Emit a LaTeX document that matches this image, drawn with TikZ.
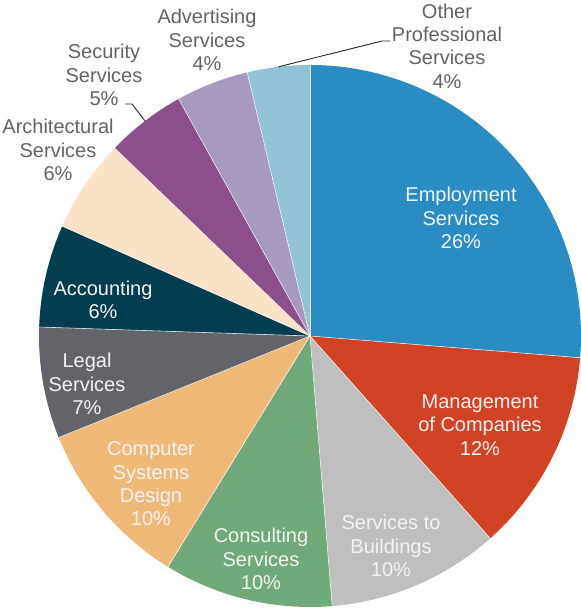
\documentclass[tikz,border=0pt]{standalone}
\usepackage{fontspec}
\setmainfont{Liberation Sans}
\usetikzlibrary{calc}
\definecolor{cEmp}{HTML}{2A8CC2}
\definecolor{cMan}{HTML}{D24325}
\definecolor{cBld}{HTML}{BFBFBF}
\definecolor{cCon}{HTML}{70A97A}
\definecolor{cCmp}{HTML}{F1B978}
\definecolor{cLeg}{HTML}{626469}
\definecolor{cAcc}{HTML}{033E50}
\definecolor{cArc}{HTML}{FAE3C8}
\definecolor{cSec}{HTML}{8B4F8A}
\definecolor{cAdv}{HTML}{A899BF}
\definecolor{cOth}{HTML}{92C3D5}
\definecolor{intext}{HTML}{F2F2F2}
\definecolor{outtext}{HTML}{636363}
\newcommand\pieslice[3]{\fill[#3] (c) -- ++(#1:271) arc[start angle=#1,end angle=#2,radius=271] -- cycle;}
\begin{document}
\begin{tikzpicture}[x=1pt,y=1pt,
  lbl/.style={align=center,font=\fontsize{20}{23.3}\selectfont,inner sep=0pt},
  inlbl/.style={lbl,text=intext},
  outlbl/.style={lbl,text=outtext},
  sepline/.style={draw=white,line width=0.6pt,opacity=0.8},
  leader/.style={draw=black!85,line width=0.9pt}]
\useasboundingbox (0,0) rectangle (581,608);
\coordinate (c) at (310,272);
\pieslice{90}{-4.6}{cEmp}
\pieslice{-4.6}{-48.3}{cMan}
\pieslice{-48.3}{-85.3}{cBld}
\pieslice{-85.3}{-121.6}{cCon}
\pieslice{-121.6}{-158.0}{cCmp}
\pieslice{-158.0}{-181.9}{cLeg}
\pieslice{-181.9}{-203.9}{cAcc}
\pieslice{-203.9}{-223.9}{cArc}
\pieslice{-223.9}{-241.0}{cSec}
\pieslice{-241.0}{-256.6}{cAdv}
\pieslice{-256.6}{-270}{cOth}
\foreach \a in {90,-4.6,-48.3,-85.3,-121.6,-158.0,-181.9,-203.9,-223.9,-241.0,-256.6}
  \draw[sepline] (c) -- ++(\a:271);
% labels inside
\node[inlbl] (emp) at (461,390) {Employment\\Services\\26\%};
\node[inlbl] (man) at (480,183) {Management\\of Companies\\12\%};
\node[inlbl] (bld) at (391,62) {Services to\\Buildings\\10\%};
\node[inlbl] (con) at (261,49) {Consulting\\Services\\10\%};
\node[inlbl] (cmp) at (151,124) {Computer\\Systems\\Design\\10\%};
\node[inlbl] (leg) at (87,224) {Legal\\Services\\7\%};
\node[inlbl] (acc) at (103,308) {Accounting\\6\%};
% labels outside
\node[outlbl] (arc) at (58,458) {Architectural\\Services\\6\%};
\node[outlbl] (sec) at (104,533) {Security\\Services\\5\%};
\node[outlbl] (adv) at (207,568) {Advertising\\Services\\4\%};
\node[outlbl] (oth) at (447,562) {Other\\Professional\\Services\\4\%};
% leaders
\coordinate (secL) at (125,504);
\coordinate (secP) at ($(c)+(127.5:271)$);
\coordinate (othL) at (390,567);
\coordinate (othP) at ($(c)+(96.7:271)$);
\draw[leader] (secL) -- ++(7,0) -- (secP);
\draw[leader] (othL) -- ++(-8,0) -- (othP);
\end{tikzpicture}
\end{document}
